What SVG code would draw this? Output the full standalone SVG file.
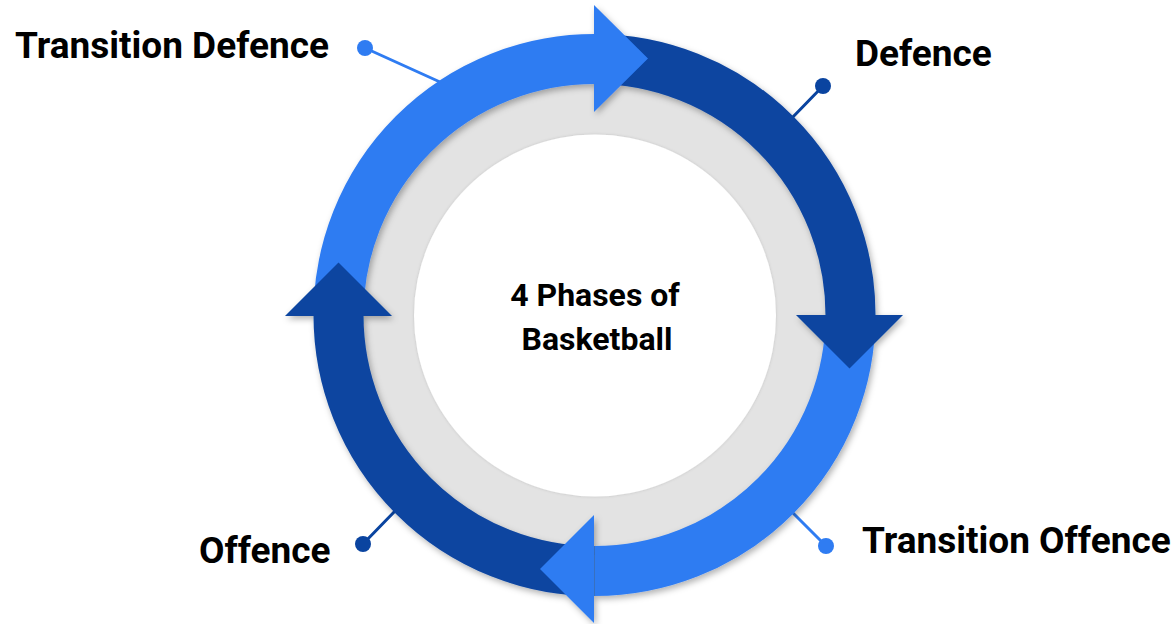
<svg xmlns="http://www.w3.org/2000/svg" width="1176" height="624" viewBox="0 0 1176 624">
  <defs>
    <filter id="shadow" x="-20%" y="-20%" width="140%" height="140%">
      <feDropShadow dx="2" dy="3" stdDeviation="3" flood-color="#000" flood-opacity="0.3"/>
    </filter>
    <filter id="soft" x="-10%" y="-10%" width="120%" height="120%">
      <feDropShadow dx="0" dy="0" stdDeviation="1.5" flood-color="#000" flood-opacity="0.15"/>
    </filter>
  </defs>
  <style>
    .light { fill: #2F7CF2; }
    .dark { fill: #0A44A0; }
    .band { fill: none; stroke-width: 50; }
    .band.l { stroke: #2F7CF2; }
    .band.d { stroke: #0A44A0; }
    .lead { stroke-width: 3; stroke-linecap: round; fill: none; }
    .lead.l { stroke: #2F7CF2; }
    .lead.d { stroke: #0A44A0; }
    .label { font-family: Roboto, "Liberation Sans", sans-serif; font-weight: 700; font-size: 37px; fill: #000; }
    .title { font-family: Roboto, "Liberation Sans", sans-serif; font-weight: 700; font-size: 32px; fill: #000; text-anchor: middle; }
  </style>
  <rect width="1176" height="624" fill="#fff"/>

  <g id="connectors">
    <line class="lead l" x1="365" y1="48" x2="440" y2="82"/>
    <line class="lead d" x1="823" y1="86" x2="790" y2="120"/>
    <line class="lead l" x1="826" y1="546" x2="790" y2="510"/>
    <line class="lead d" x1="363" y1="544" x2="396" y2="510"/>
  </g>

  <g id="hub">
    <circle cx="594.5" cy="315" r="240" fill="#E3E3E3"/>
    <circle cx="595" cy="315.5" r="181" fill="#fff" filter="url(#soft)"/>
    <text class="title" x="595" y="306">4 Phases of</text>
    <text class="title" x="597" y="350">Basketball</text>
  </g>

  <g id="cycle" filter="url(#shadow)">
    <path id="band-transition-defence" class="band l" d="M338.5,315 A256,256 0 0 1 594.5,59"/>
    <path id="band-defence" class="band d" d="M594.5,59 A256,256 0 0 1 850.5,315"/>
    <path id="band-transition-offence" class="band l" d="M850.5,315 A256,256 0 0 1 594.5,571"/>
    <path id="band-offence" class="band d" d="M594.5,571 A256,256 0 0 1 338.5,315"/>
    <polygon id="head-transition-defence" class="light" points="594,5 594,112 648,58.5"/>
    <polygon id="head-defence" class="dark" points="796,315 903,315 849.5,368.5"/>
    <polygon id="head-transition-offence" class="light" points="594,515 594,623 540,569"/>
    <polygon id="head-offence" class="dark" points="285,316 392,316 338.5,262.5"/>
  </g>

  <g id="node-transition-defence">
    <circle class="light" cx="365" cy="48" r="8"/>
    <text class="label" x="15" y="58">Transition Defence</text>
  </g>
  <g id="node-defence">
    <circle class="dark" cx="823" cy="86" r="8"/>
    <text class="label" x="855" y="66">Defence</text>
  </g>
  <g id="node-transition-offence">
    <circle class="light" cx="826" cy="546" r="8"/>
    <text class="label" x="862" y="553">Transition Offence</text>
  </g>
  <g id="node-offence">
    <circle class="dark" cx="363" cy="544" r="8"/>
    <text class="label" x="199" y="563">Offence</text>
  </g>
</svg>
